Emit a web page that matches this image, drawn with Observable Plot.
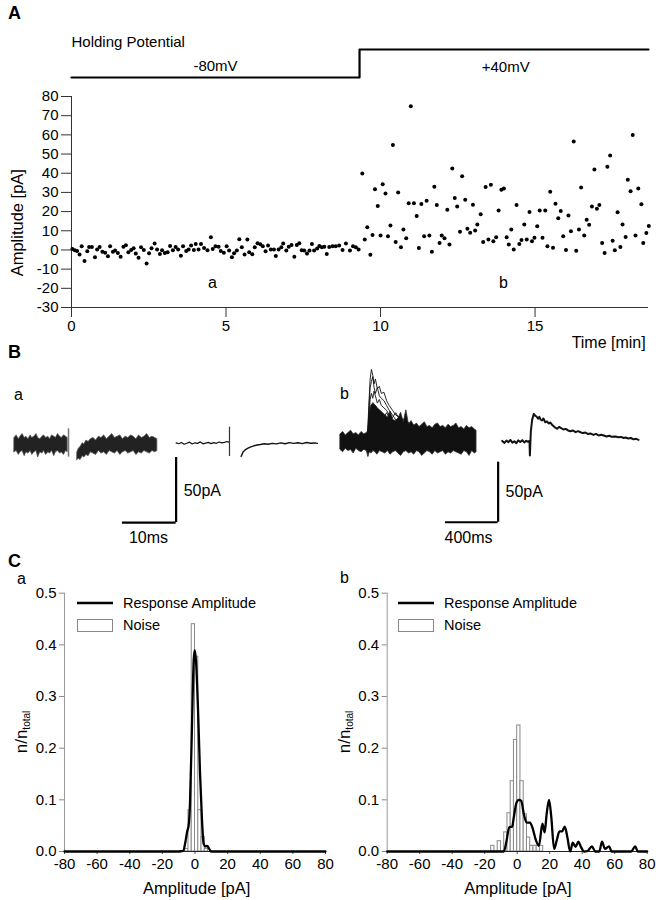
<!DOCTYPE html>
<html><head><meta charset="utf-8">
<script src="https://cdn.jsdelivr.net/npm/d3@7"></script>
<script src="https://cdn.jsdelivr.net/npm/@observablehq/plot@0.6"></script>
<style>
body{margin:0;background:#fff;}
#fig{position:relative;width:660px;height:900px;font-family:"Liberation Sans",Arial,Helvetica,sans-serif;color:#000;overflow:hidden;background:#fff}
.lab{position:absolute;font-size:16px;line-height:18px;white-space:nowrap}
.big{font-weight:bold;font-size:18px}
</style></head><body><div id="fig"></div><script>
// ---------- DATA ----------
// Panel A: holding potential protocol
const hpTime = [0, 9.32, 9.32, 18.67];
const hpMv = [-80, -80, 40, 40];
const hpLabels = ["-80mV", "+40mV"];
const hpLabelTime = [4.66, 14.05];
// Panel A: amplitude vs time [min, pA]
const preStep = [[0.03,0.5],[0.11,-0.2],[0.18,-0.5],[0.26,-2.4],[0.33,1.9],[0.42,-5.7],[0.51,-0.7],[0.57,1.6],[0.66,1.6],[0.76,-3.8],[0.83,0.3],[0.91,1.6],[1.00,-1.0],[1.09,-1.4],[1.18,-3.3],[1.25,1.9],[1.34,-0.9],[1.41,-0.3],[1.50,-1.6],[1.59,-3.5],[1.68,1.7],[1.76,2.4],[1.84,-1.2],[1.93,0],[2.01,0.9],[2.08,-1.9],[2.17,-4.0],[2.25,1.4],[2.34,0],[2.43,-7.0],[2.51,-1.7],[2.59,0.9],[2.69,3.3],[2.77,0.3],[2.86,-2.1],[2.93,-0.2],[3.02,-1.6],[3.11,-1.2],[3.19,2.1],[3.28,-0.2],[3.37,1.6],[3.45,0.3],[3.54,-3.0],[3.61,1.9],[3.71,-0.5],[3.79,0.3],[3.87,2.3],[3.96,0],[4.02,3.1],[4.11,0.3],[4.19,3.1],[4.29,1.0],[4.40,-0.2],[4.51,6.6],[4.57,0.5],[4.66,1.9],[4.76,1.7],[4.83,-0.5],[4.93,-1.4],[5.02,1.9],[5.10,-0.3],[5.19,-3.8],[5.26,-1.7],[5.35,-0.3],[5.43,5.6],[5.51,1.4],[5.60,-2.4],[5.69,5.4],[5.75,-1.2],[5.85,-2.3],[5.93,1.4],[6.02,3.5],[6.11,3.0],[6.19,1.9],[6.28,-0.7],[6.36,2.3],[6.45,0.3],[6.55,0.3],[6.61,-3.1],[6.70,0.2],[6.79,1.4],[6.85,3.3],[6.95,-0.3],[7.03,1.7],[7.12,2.6],[7.21,-3.6],[7.29,2.6],[7.37,3.5],[7.45,-0.2],[7.53,-0.3],[7.62,-1.9],[7.70,-0.3],[7.78,3.1],[7.85,-0.3],[7.95,0.7],[8.02,2.1],[8.10,1.4],[8.18,1.7],[8.26,-2.1],[8.34,1.6],[8.45,1.9],[8.55,1.9],[8.66,2.3],[8.77,0],[8.88,3.3],[9.01,-0.3],[9.11,1.9],[9.20,1.4],[9.29,0.2]];
const postStep = [[9.41,39.8],[9.49,5.5],[9.57,11.8],[9.67,-2.5],[9.74,7.8],[9.82,31.6],[9.91,22.9],[10.00,7.5],[10.07,34.2],[10.16,29.4],[10.24,7.1],[10.32,12.8],[10.40,54.7],[10.49,4.2],[10.57,29.9],[10.66,1.4],[10.74,10.7],[10.83,6.1],[10.91,24.3],[10.98,74.9],[11.08,24.3],[11.17,17.7],[11.24,1.0],[11.32,24.0],[11.41,7.1],[11.49,25.7],[11.58,7.5],[11.66,-1.0],[11.74,33.0],[11.82,23.5],[11.91,3.6],[11.98,7.5],[12.07,6.1],[12.16,21.0],[12.23,2.9],[12.32,42.5],[12.40,27.1],[12.48,22.6],[12.57,9.5],[12.64,38.4],[12.74,26.2],[12.81,11.1],[12.90,9.0],[12.99,23.6],[13.06,10.2],[13.13,13.3],[13.24,18.6],[13.32,4.2],[13.40,32.8],[13.49,5.4],[13.57,34.0],[13.65,4.5],[13.74,6.6],[13.82,20.6],[13.91,31.4],[13.99,32.1],[14.08,6.6],[14.15,2.8],[14.23,10.7],[14.31,0.2],[14.40,23.5],[14.49,3.1],[14.56,5.2],[14.65,13.3],[14.73,5.5],[14.82,19.8],[14.90,4.5],[14.98,6.3],[15.07,12.3],[15.15,20.6],[15.24,6.3],[15.33,20.6],[15.40,1.9],[15.49,30.4],[15.58,1.2],[15.66,24.1],[15.75,16.5],[15.83,20.3],[15.91,7.1],[16.00,0],[16.08,18.0],[16.16,9.7],[16.25,56.5],[16.33,-0.4],[16.42,10.6],[16.49,32.6],[16.59,7.5],[16.67,15.8],[16.75,13.2],[16.84,22.7],[16.92,41.9],[17.00,21.5],[17.08,23.5],[17.17,3.6],[17.25,-1.6],[17.34,43.4],[17.43,49.3],[17.51,4.8],[17.58,-0.2],[17.67,19.6],[17.76,1.5],[17.83,13.3],[17.93,6.8],[18.00,36.6],[18.09,30.6],[18.16,59.9],[18.25,7.6],[18.34,32.1],[18.44,23.8],[18.50,3.6],[18.60,8.9],[18.68,12.5]];
const ampTicks = [-30,-20,-10,0,10,20,30,40,50,60,70,80];
const timeTicks = [0,5,10,15];
const sectionLabels = ["a","b"];
const sectionTime = [4.56, 13.98];

// Panel B a: overlaid traces [ms, bottom pA, top pA] and averaged traces [ms, pA]
const a1Band = [[0,-6,5],[0.4,-5,7],[0.8,-8,4],[1.1,-6,6],[1.5,-5,8],[1.9,-9,5],[2.2,-6,6],[2.6,-7,4],[3.0,-5,7],[3.3,-8,5],[3.7,-6,6],[4.1,-5,8],[4.4,-10,5],[4.8,-6,4],[5.2,-7,6],[5.5,-5,7],[5.9,-8,5],[6.3,-6,6],[6.6,-7,4],[7.0,-5,7],[7.4,-9,6],[7.7,-6,5],[8.1,-5,8],[8.5,-7,6],[8.8,-6,5],[9.2,-8,7],[9.6,-5,6],[9.9,-6,5]];
const a2Band = [[11.7,-12,-6],[12.0,-11,-3],[12.3,-12,-2],[12.7,-9,1],[13.0,-10,0],[13.4,-8,3],[13.8,-9,2],[14.2,-6,4],[14.7,-7,5],[15.2,-8,3],[15.7,-5,6],[16.2,-7,5],[16.7,-6,7],[17.2,-8,4],[17.7,-5,6],[18.2,-6,8],[18.7,-7,5],[19.2,-5,6],[19.7,-8,7],[20.2,-6,4],[20.7,-5,6],[21.2,-7,5],[21.7,-6,7],[22.2,-5,6],[22.7,-8,4],[23.2,-6,7],[23.7,-7,5],[24.2,-5,6],[24.7,-6,8],[25.2,-7,5],[25.7,-5,6],[26.2,-6,5],[26.6,-5,4]];
const a3Trace = [[30.1,1.2],[30.6,0.6],[31.1,1.5],[31.6,0.2],[32.1,1.0],[32.6,1.8],[33.1,0.4],[33.6,1.3],[34.1,0.8],[34.6,2.0],[35.1,0.5],[35.6,1.1],[36.1,1.6],[36.6,0.7],[37.1,1.4],[37.6,0.9],[38.1,1.9],[38.6,1.2],[39.1,1.6],[39.6,2.3],[39.9,1.8]];
const a4Trace = [[42.2,-9.2],[42.6,-5.5],[43.0,-4.0],[43.5,-2.8],[44.0,-1.8],[44.6,-1.0],[45.2,-0.4],[45.8,0],[46.5,0.6],[47.2,0.2],[48.0,0.9],[48.8,0.5],[49.6,1.2],[50.4,0.6],[51.2,1.4],[52.0,0.9],[52.8,1.3],[53.6,0.7],[54.4,1.5],[55.2,1.0],[56.0,1.2],[56.4,0.9]];
const artifactA = [[10.06,-9.7,12],[40.04,-9.2,13.3]];
// Panel B b
const b1Band = [[0,-7,6],[20,-9,8],[40,-6,5],[60,-8,7],[80,-7,9],[100,-10,6],[120,-6,7],[140,-8,5],[160,-9,8],[180,-7,6],[200,-8,7],[212,-13,9],[222,-9,22],[235,-10,30],[250,-8,32],[265,-9,30],[280,-11,28],[300,-8,26],[320,-9,24],[340,-10,22],[360,-8,20],[380,-11,25],[400,-9,18],[420,-8,17],[440,-10,19],[460,-12,24],[480,-9,16],[500,-8,26],[520,-10,14],[540,-9,17],[560,-11,13],[580,-8,15],[600,-9,12],[620,-12,14],[640,-10,16],[660,-8,12],[680,-9,13],[700,-11,11],[720,-8,14],[740,-10,15],[760,-9,12],[780,-8,13],[800,-11,11],[820,-9,14],[840,-10,12],[860,-8,13],[880,-9,15],[900,-10,11],[920,-11,12],[940,-8,10],[960,-9,13],[980,-12,11],[1000,-8,12],[1020,-10,10],[1033,-9,9]];
const pkTime = [190,205,215,225,235,245,255,265,280,295,310,330,350,370,395,420,450,480,510,550,600,650];
const pk1 = [2,4,30,52,60,55,48,52,44,46,40,41,34,30,26,22,20,18,16,14,12,10];
const pk2 = [1,3,25,45,50,54,45,40,45,38,36,34,30,26,22,18,20,16,15,12,10,9];
const pk3 = [3,2,18,35,40,36,42,38,32,35,30,28,26,22,20,24,18,14,13,12,11,9];
const pk4 = [0,1,12,25,30,28,26,30,27,24,22,20,24,20,18,16,19,15,14,12,10,8];
const b2Trace = [[1228,0.5],[1245,-1.2],[1260,0.8],[1275,-0.6],[1290,1.3],[1305,-1.0],[1320,0.2],[1335,-1.5],[1350,0.9],[1365,-0.4],[1380,1.1],[1395,-0.8],[1410,0.6],[1425,-0.2],[1435,0.5],[1438,-11.7],[1445,8],[1455,18],[1468,23],[1478,21.5],[1488,20.8],[1500,19],[1510,20.5],[1519,18.3],[1530,17.5],[1541,19.2],[1555,16],[1569,16.7],[1580,15],[1594,15.8],[1610,13.5],[1625,12],[1645,10.6],[1660,12.2],[1675,11.2],[1693,10],[1710,10.5],[1728,9.2],[1746,8.5],[1765,9.2],[1785,7.8],[1805,8.6],[1822,7.7],[1840,7],[1860,7.5],[1880,6.2],[1898,6.7],[1920,5.5],[1940,6.3],[1960,5],[1980,5.6],[1999,5],[2020,4.2],[2040,4.8],[2060,3.9],[2088,4.2],[2110,3.5],[2130,3.8],[2150,2.9],[2164,3.3],[2185,2.5],[2205,2.9],[2225,1.8],[2245,2.2],[2263,1.4]];
const scaleBarA = {ms: 10, pA: 50};
const scaleBarB = {ms: 400, pA: 50};

// Panel C: histograms (bin start pA, fraction) and response amplitude curves
const BIN = 2;
const noiseA = [[-6,0.005],[-4,0.08],[-2,0.44],[0,0.377],[2,0.08],[4,0.028],[6,0.005]];
const respA = [[-80,0],[-10,0],[-7.2,0.001],[-5.8,0.02],[-4.7,0.04],[-3.9,0.05],[-3.1,0.09],[-1.8,0.25],[-0.8,0.37],[-0.2,0.39],[0.6,0.37],[1.8,0.28],[3.1,0.15],[4.3,0.06],[5.3,0.015],[6.3,0.01],[7.5,0.011],[8.7,0.005],[10,0],[80,0]];
const noiseB = [[-16,0.011],[-12,0.02],[-8,0.037],[-6,0.074],[-4,0.136],[-2,0.216],[0,0.244],[2,0.136],[4,0.072],[6,0.027],[8,0.011],[10,0.011],[12,0.011],[14,0.011]];
const respB = [[-80,0],[-10,0],[-8.2,0],[-6.6,0.02],[-4.9,0.047],[-3.1,0.048],[-2.1,0.066],[-0.4,0.095],[1.0,0.10],[2.5,0.098],[4.1,0.072],[5.8,0.056],[7.8,0.056],[9.3,0.047],[11.3,0.024],[13.4,0.011],[15.5,0.054],[16.9,0.037],[18.1,0.072],[19.6,0.10],[21.0,0.066],[22.7,0.005],[24.3,0.021],[26.0,0.039],[27.6,0.039],[29.3,0.048],[30.9,0.027],[32.6,0],[34.2,0.017],[35.9,0.009],[37.7,0.019],[39.2,0.009],[41.2,0],[43.3,0.001],[46.0,0.01],[48.0,0],[50.5,0],[52.2,0.019],[54.0,0.005],[56.5,0.01],[58.1,0],[70.1,0],[72.6,0.01],[74.2,0],[80,0]];
const fracTicks = [0,0.1,0.2,0.3,0.4,0.5];
const pATicks = [-80,-60,-40,-20,0,20,40,60,80];

// ---------- DRAW ----------
const FONT = '"Liberation Sans", Arial, Helvetica, sans-serif';
const fig = document.getElementById("fig");
const T_END = 18.67;
const baseStyle = {fontFamily: FONT, fontSize: "15px", background: "transparent", color: "#000", overflow: "visible"};
function place(el, left, top) {
  el.style.position = "absolute"; el.style.left = left + "px"; el.style.top = top + "px";
  el.style.maxWidth = "none";
  fig.appendChild(el); return el;
}
function label(text, left, top, cls = "") {
  const d = document.createElement("div");
  d.className = "lab " + cls; d.textContent = text;
  d.style.left = left + "px"; d.style.top = top + "px";
  fig.appendChild(d);
}
const fmt = d => String(d);

// Holding potential
place(Plot.plot({
  width: 660, height: 100, marginLeft: 71, marginRight: 12, marginTop: 49, marginBottom: 23,
  x: {domain: [0, T_END], axis: null}, y: {domain: [-80, 40], axis: null},
  style: baseStyle,
  marks: [
    Plot.line(hpTime.map((t, i) => ({t, mv: hpMv[i]})), {x: "t", y: "mv", stroke: "#000", strokeWidth: 2.2}),
    Plot.text(["Holding Potential"], {x: 0, y: 40, dy: -7, textAnchor: "start", fontSize: 15}),
    Plot.text([hpLabels[0]], {x: [hpLabelTime[0]], y: [-80], dy: -11, fontSize: 15}),
    Plot.text([hpLabels[1]], {x: [hpLabelTime[1]], y: [40], dy: 18, fontSize: 15})
  ]
}), 0, 0);

// Scatter
place(Plot.plot({
  width: 660, height: 360, marginLeft: 71, marginRight: 12, marginTop: 96, marginBottom: 53,
  x: {domain: [0, T_END]}, y: {domain: [-30, 80]},
  style: baseStyle,
  marks: [
    Plot.axisY({ticks: ampTicks, tickFormat: fmt, tickSize: 10, tickPadding: 3, label: null, fontSize: 15, stroke: "#333"}),
    Plot.axisX({ticks: timeTicks, tickFormat: fmt, tickSize: 10, tickPadding: 3, label: null, fontSize: 15, stroke: "#333"}),
    Plot.ruleX([0], {y1: -30, y2: 80, stroke: "#333"}),
    Plot.ruleY([-30], {x1: 0, x2: T_END, stroke: "#333"}),
    Plot.dot(preStep, {x: d => d[0], y: d => d[1], r: 2, fill: "#000"}),
    Plot.dot(postStep, {x: d => d[0], y: d => d[1], r: 2, fill: "#000"}),
    Plot.text(sectionLabels, {x: sectionTime, y: [-17, -17], text: d => d, fontSize: 16}),
    Plot.text(["Amplitude [pA]"], {x: -1.75, y: 14.2, rotate: -90, fontSize: 16.5}),
    Plot.text(["Time [min]"], {x: 18.58, y: -48.3, textAnchor: "end", fontSize: 16})
  ]
}), 0, 0);

// Panel B a
const zip = (t, v) => t.map((x, i) => [x, v[i]]);
place(Plot.plot({
  width: 330, height: 170, margin: 0,
  x: {domain: [-2.607, 58.85], axis: null}, y: {domain: [-81.5, 49.2], axis: null},
  style: baseStyle,
  marks: [
    Plot.areaY(a1Band, {x: d => d[0], y1: d => d[1], y2: d => d[2], fill: "#222", stroke: "#555", strokeWidth: 0.8}),
    Plot.areaY(a2Band, {x: d => d[0], y1: d => d[1], y2: d => d[2], fill: "#222", stroke: "#555", strokeWidth: 0.8}),
    Plot.line(a3Trace, {x: d => d[0], y: d => d[1], stroke: "#111", strokeWidth: 1.2}),
    Plot.line(a4Trace, {x: d => d[0], y: d => d[1], stroke: "#111", strokeWidth: 1.4}),
    Plot.ruleX([artifactA[0]], {x: d => d[0], y1: d => d[1], y2: d => d[2], stroke: "#777", strokeWidth: 1.5}),
    Plot.ruleX([artifactA[1]], {x: d => d[0], y1: d => d[1], y2: d => d[2], stroke: "#333", strokeWidth: 1.2}),
    Plot.ruleY([-60], {x1: 30.1 - scaleBarA.ms, x2: 30.1, stroke: "#000", strokeWidth: 2.2}),
    Plot.ruleX([30.1], {y1: -60, y2: -60 + scaleBarA.pA, stroke: "#000", strokeWidth: 2.2}),
    Plot.text([scaleBarA.pA + "pA"], {x: 31.5, y: -35.4, textAnchor: "start", fontSize: 16}),
    Plot.text([scaleBarA.ms + "ms"], {x: 24.95, y: -71.5, fontSize: 16})
  ]
}), 0, 380);

// Panel B b
place(Plot.plot({
  width: 330, height: 200, margin: 0,
  x: {domain: [-75.9, 2429.8], axis: null}, y: {domain: [-90.8, 75.8], axis: null},
  style: baseStyle,
  marks: [
    Plot.areaY(b1Band, {x: d => d[0], y1: d => d[1], y2: d => d[2], fill: "#111", stroke: "#333", strokeWidth: 0.8}),
    ...[pk1, pk2, pk3, pk4].map(pk => Plot.line(zip(pkTime, pk), {x: d => d[0], y: d => d[1], stroke: "#111", strokeWidth: 0.9})),
    Plot.line(b2Trace, {x: d => d[0], y: d => d[1], stroke: "#111", strokeWidth: 2}),
    Plot.ruleY([-67.25], {x1: 1197 - scaleBarB.ms, x2: 1197, stroke: "#000", strokeWidth: 2.2}),
    Plot.ruleX([1197], {y1: -67.25, y2: -67.25 + scaleBarB.pA, stroke: "#000", strokeWidth: 2.2}),
    Plot.text([scaleBarB.pA + "pA"], {x: 1253, y: -42.3, textAnchor: "start", fontSize: 16}),
    Plot.text([scaleBarB.ms + "ms"], {x: 972, y: -80, fontSize: 16})
  ]
}), 330, 350);

// Panel C
function hist(noise, resp, left, marginLeft, marginRight, labelX, yLabelX) {
  const p = Plot.plot({
    width: 330, height: 340, marginLeft, marginRight, marginTop: 32.7, marginBottom: 49,
    x: {domain: [-80, 80]}, y: {domain: [0, 0.5]},
    style: baseStyle,
    marks: [
      Plot.axisY({ticks: fracTicks, tickFormat: d3.format(".1f"), tickSize: 5, tickPadding: 3, label: null, fontSize: 15, stroke: "#888"}),
      Plot.axisX({ticks: pATicks, tickFormat: fmt, tickSize: 3, tickPadding: 4, label: null, fontSize: 15, stroke: "#555"}),
      Plot.ruleX([-80], {y1: 0, y2: 0.5, stroke: "#999"}),
      Plot.rect(noise, {x1: d => d[0], x2: d => d[0] + BIN, y1: 0, y2: d => d[1], fill: "#fff", stroke: "#888", strokeWidth: 1}),
      Plot.ruleY([0], {x1: -80, x2: 80, stroke: "#222"}),
      Plot.line(resp, {x: d => d[0], y: d => d[1], stroke: "#000", strokeWidth: 2.3, curve: "monotone-x"}),
      Plot.text(["Amplitude [pA]"], {x: labelX, y: -0.0716, fontSize: 16.5})
    ]
  });
  const g = d3.select(p).append("text")
    .attr("transform", `translate(${yLabelX},172) rotate(-90)`)
    .attr("text-anchor", "middle").attr("font-size", 17).attr("fill", "#000").attr("font-family", FONT);
  g.append("tspan").text("n/n");
  g.append("tspan").attr("font-size", 10).attr("dy", 3).text("total");
  place(p, left, 560);
}
hist(noiseA, respA, 0, 64, 5, 1, 27);
hist(noiseB, respB, 330, 56.7, 13.3, 0.5, 20);

// Legends
function legend(x0) {
  const s = d3.select(fig).append("svg")
    .style("position", "absolute").style("left", x0 + "px").style("top", "595px")
    .attr("width", 200).attr("height", 45);
  s.append("line").attr("x1", 0).attr("x2", 36).attr("y1", 8).attr("y2", 8).attr("stroke", "#000").attr("stroke-width", 2.6);
  s.append("rect").attr("x", 0.5).attr("y", 24.5).attr("width", 35).attr("height", 12).attr("fill", "#fff").attr("stroke", "#888");
  s.append("text").attr("x", 46).attr("y", 13).attr("font-size", 14.5).attr("font-family", FONT).text("Response Amplitude");
  s.append("text").attr("x", 46).attr("y", 35).attr("font-size", 14.5).attr("font-family", FONT).text("Noise");
}
legend(77); legend(398);

// Panel letters
label("A", 8, 4, "big"); label("B", 8, 343, "big"); label("C", 8, 552, "big");
label("a", 14, 386); label("b", 340, 385);
label("a", 17, 570); label("b", 340, 569);
</script></body></html>
